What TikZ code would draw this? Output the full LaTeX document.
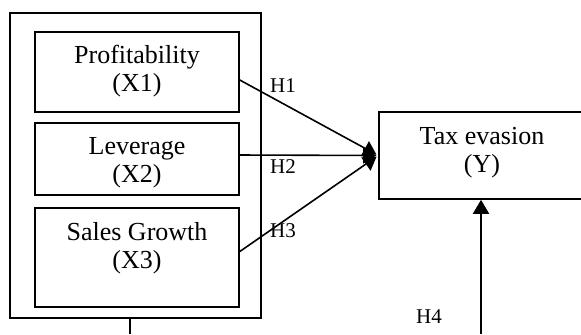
\documentclass[tikz,border=0pt]{standalone}
\usepackage{fontspec}
\setmainfont{Liberation Serif}
\usetikzlibrary{arrows.meta,positioning}
\pgfdeclarelayer{background}
\pgfsetlayers{background,main}
\tikzset{
  var/.style={draw,line width=0.8pt,inner sep=0},
  txt/.style={align=center,font=\fontsize{13}{14}\selectfont,inner sep=0},
  hyp/.style={font=\fontsize{10.5}{12}\selectfont,inner sep=0},
}
\newcommand{\Variable}[4]% pos, name, width, height
{\node[var,minimum width=#3,minimum height=#4] (#2) at (#1) {};
}
\newcommand{\Arrow}[3]%
{ \begin{pgfonlayer}{background}
    \draw[#3] (#1) -- (#2);
  \end{pgfonlayer}}

\begin{document}
\begin{tikzpicture}[x=0.5pt,y=-0.5pt]
        \useasboundingbox (0,0) rectangle (581,334);
        \Variable{135.5,165.5}{grp}{125.5pt}{152.5pt}
        \Variable{137,72}{X1}{102pt}{40pt}
        \Variable{137,159}{X2}{102pt}{36pt}
        \Variable{137,257.5}{X3}{102pt}{49.5pt}
        \Variable{482,155.5}{Y}{103pt}{43.5pt}
        \node[txt] (X1t) at (137,71) {Profitability\\(X1)};
        \node[txt] (X2t) at (137,163) {Leverage\\(X2)};
        \node[txt] (X3t) at (137,248) {Sales Growth\\(X3)};
        \node[txt] (Yt) at (482,152.5) {Tax evasion\\(Y)};
        \node[hyp] (H1) at (283,86) {H1};
        \node[hyp] (H2) at (283,167) {H2};
        \node[hyp] (H3) at (283,231) {H3};
        \node[hyp] (H4) at (429,317) {H4};
        \coordinate (b1) at (130,334);
        \coordinate (b2) at (481,334);
        \Arrow{[yshift=-4pt]X1.east}{Y.west}{-{Triangle[length=6.5pt,width=8pt]},line width=0.8pt,shorten >=1pt}
        \Arrow{[yshift=2pt]X2.east}{Y.west}{-{Triangle[length=6.5pt,width=8pt]},line width=0.8pt,shorten >=1pt}
        \Arrow{[yshift=3pt]X3.east}{Y.west}{-{Triangle[length=6.5pt,width=8pt]},line width=0.8pt,shorten >=1pt}
        \Arrow{b2}{b2 |- Y.south}{-{Triangle[length=7pt,width=8pt]},line width=1pt}
        \Arrow{b1 |- grp.south}{b1}{line width=1pt}
      \end{tikzpicture}
\end{document}
